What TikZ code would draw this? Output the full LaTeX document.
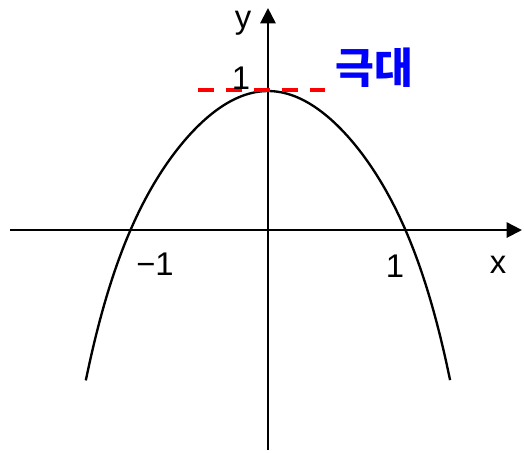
\documentclass[tikz,border=0pt]{standalone}
\usepackage{fontspec}
\setmainfont{Liberation Sans}
\newfontfamily\kofont{Noto Sans CJK KR}
\usetikzlibrary{arrows.meta, positioning, calc}
\definecolor{maxred}{HTML}{FF0000}
\definecolor{maxblue}{HTML}{0000FF}
\tikzset{
	axis/.style={line width=1.7pt, -{Triangle[length=13pt, width=13pt]}},
	curve/.style={line width=2pt},
	maxline/.style={line width=3.4pt, maxred, dash pattern=on 13.6pt off 10.2pt},
	axlabel/.style={inner sep=0pt, font=\fontsize{28}{28}\selectfont},
	maxlabel/.style={inner sep=0pt, text=maxblue, font=\kofont\bfseries\fontsize{36}{36}\selectfont}
}
\begin{document}
\begin{tikzpicture}[x=4.125cm, y=4.17cm]
	\useasboundingbox (-1.949,-1.597) rectangle (1.862,1.655);

	% Axes
	\coordinate (xstart) at (-1.876,0);
	\coordinate (xend) at (1.847,0);
	\coordinate (ystart) at (0,-1.583);
	\coordinate (yend) at (0,1.597);
	\draw [axis] (xstart) -- (xend);
	\draw [axis] (ystart) -- (yend);

	% Curve
	\draw [curve, domain=-1.325:1.325, samples=80, smooth] plot (\x, {(1-\x*\x)*(1+0.14*\x*\x*\x*\x)});

	% Maximum line
	\coordinate (mstart) at (-0.509,1.005);
	\coordinate (mend) at (0.422,1.005);
	\draw [maxline] (mstart) -- (mend);

	% Labels
	\node [axlabel] (ylab) at (-0.182,1.486) {y};
	\node [axlabel] (yone) at (-0.196,1.090) {1};
	\node [axlabel] (xlab) at (1.673,-0.252) {x};
	\node [axlabel] (xone) at (0.924,-0.259) {1};
	\node [axlabel] (xmone) at (-0.822,-0.248) {−1};
	\node [maxlabel] (maxlab) at (0.775,1.165) {극대};
\end{tikzpicture}
\end{document}
